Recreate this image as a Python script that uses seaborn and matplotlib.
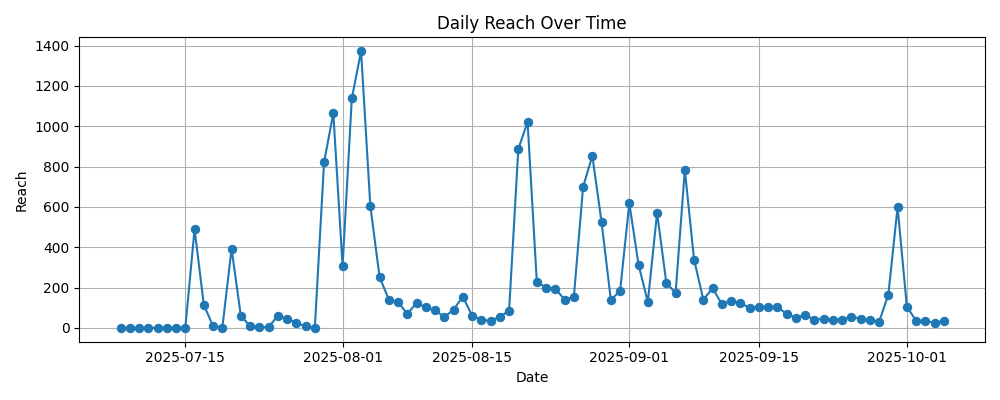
import pandas as pd
import seaborn as sns
import matplotlib.pyplot as plt

# daily reach, one value per day from 2025-07-08
startDate = "2025-07-08"
reachValues = [
    0, 0, 0, 0, 0, 0, 0, 0, 490, 115,
    8, 0, 392, 61, 8, 5, 3, 61, 45, 25,
    8, 0, 821, 1065, 307, 1138, 1372, 605, 252, 140,
    129, 69, 124, 102, 89, 53, 91, 155, 61, 40,
    35, 56, 84, 887, 1021, 228, 200, 195, 140, 152,
    699, 853, 524, 139, 183, 618, 312, 129, 571, 223,
    173, 783, 338, 140, 196, 119, 134, 124, 99, 104,
    104, 104, 69, 51, 64, 41, 45, 41, 41, 56,
    46, 41, 30, 165, 599, 106, 35, 35, 25, 36,
]

dates = pd.date_range(startDate, periods=len(reachValues), freq="D")
dataFrame = pd.DataFrame({"Date": dates, "Reach": reachValues})

fig, ax = plt.subplots(figsize=(10, 4), dpi=100)
sns.lineplot(
    data=dataFrame, x="Date", y="Reach", marker="o", ax=ax,
    color="#1f77b4", markeredgecolor="#1f77b4", markersize=6,
)
ax.set_title("Daily Reach Over Time")
ax.set_xlabel("Date")
ax.set_ylabel("Reach")
ax.grid(True)

plt.tight_layout()
plt.savefig("out.png")
plt.close()
